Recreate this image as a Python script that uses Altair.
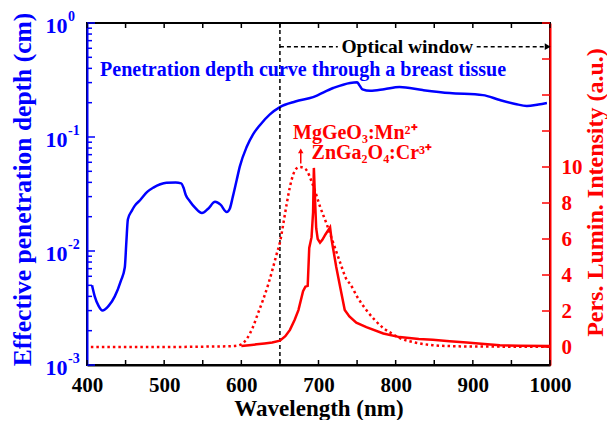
import altair as alt
import pandas as pd

# ---------------- data ----------------
blue_wl = [406.5, 410, 415, 420, 428, 436, 444, 449, 451, 453, 458, 462, 469, 478, 486, 495, 503,
           515, 522, 525, 528, 533, 540, 549, 557, 566, 573, 581, 585, 589, 594, 598, 607, 615,
           624, 637, 650, 670, 693, 719, 741, 750, 753, 757, 767, 785, 805, 835, 870, 913, 935,
           955, 970, 985, 996]
blue_depth = [0.0050, 0.0040, 0.0033, 0.0030, 0.0033, 0.0040, 0.0055, 0.0072, 0.012, 0.019,
              0.0225, 0.025, 0.028, 0.033, 0.036, 0.0385, 0.0396, 0.0398, 0.0392, 0.036, 0.031,
              0.0275, 0.024, 0.0215, 0.0235, 0.027, 0.0255, 0.022, 0.0235, 0.030, 0.042, 0.055,
              0.082, 0.105, 0.127, 0.158, 0.183, 0.205, 0.224, 0.269, 0.298, 0.302, 0.285, 0.262,
              0.254, 0.262, 0.274, 0.258, 0.243, 0.233, 0.211, 0.195, 0.187, 0.193, 0.199]

znga_wl = [600, 610, 620, 630, 640, 650, 657, 663, 669, 674, 680, 683, 686, 688, 691, 693, 694,
           695.5, 697, 699, 702, 705, 709, 712, 715, 717, 720, 723, 728, 734, 740, 749, 762,
           784, 805, 830, 848, 870, 892, 915, 935, 960, 1000]
znga_int = [0.05, 0.10, 0.15, 0.20, 0.25, 0.35, 0.60, 0.95, 1.50, 2.05, 3.10, 3.35, 3.40, 5.50,
            6.10, 7.50, 9.95, 8.20, 6.60, 6.00, 5.80, 5.95, 6.25, 6.45, 6.65, 5.95, 5.20, 4.45,
            3.35, 2.05, 1.70, 1.35, 1.10, 0.75, 0.55, 0.45, 0.40, 0.32, 0.25, 0.17, 0.10, 0.07, 0.05]

mggeo_wl = [405, 450, 500, 550, 590, 600, 607, 615, 621, 628, 635, 641, 646, 650, 655, 659, 663,
            667, 671, 676, 681, 685, 691, 696, 702, 710, 719, 728, 737, 741, 750, 762, 773, 784,
            795, 805, 825, 848, 870, 892, 950, 1000]
mggeo_int = [0.0, 0.0, 0.0, 0.02, 0.05, 0.15, 0.45, 1.10, 1.80, 2.60, 3.50, 4.40, 5.20, 5.80,
             7.00, 8.00, 8.90, 9.55, 9.90, 10.0, 9.95, 9.80, 9.20, 8.60, 7.80, 6.90, 5.80, 4.70,
             3.70, 3.50, 2.80, 2.05, 1.50, 1.05, 0.75, 0.50, 0.25, 0.10, 0.05, 0.03, 0.02, 0.02]

x_tick_pos = list(range(400, 1001, 50))
x_label_vals = [400, 500, 600, 700, 800, 900, 1000]
left_major = [0.001, 0.01, 0.1, 1.0]
left_exponents = ["-3", "-2", "-1", "0"]
left_minor = [m * 10.0 ** e for e in (-3, -2, -1) for m in range(2, 10)]
right_tick_pos = [0, 2, 4, 6, 8, 10, 12, 14, 16, 18]
right_label_vals = [0, 2, 4, 6, 8, 10]

window_start = 650
window_y = 0.62
window_segments_a = [650, 725]
window_segments_b = [905, 994]
arrow_tip = 997

blue_note = "Penetration depth curve through a breast tissue"
blue_note_pos = (417, 0.387)
red_notes = ["MgGeO\u2083:Mn\u00b2\u207a", "ZnGa\u2082O\u2084:Cr\u00b3\u207a"]
red_note_x = [667, 691]
red_note_y = [11.9, 10.8]
red_arrow = (677, 10.2, 11.1)

# ---------------- style ----------------
W, H = 463, 342
FONT = "Liberation Serif"
BLUE = "#0000ff"
RED = "#ff0000"

def xs():
    return alt.Scale(domain=[400, 1000], nice=False)

def ys_log():
    return alt.Scale(type="log", domain=[0.001, 1], nice=False)

def ys_lin():
    return alt.Scale(domain=[-1, 18], nice=False)

def x_axis():
    return alt.Axis(values=x_label_vals, format="d", title="Wavelength (nm)", ticks=False, grid=False,
                    labelPadding=9, labelFontSize=21, labelFont=FONT, labelFontWeight="bold",
                    labelColor="black", labelFlush=False, labelOverlap=False,
                    titleFont=FONT, titleFontSize=23, titleFontWeight="bold", titleColor="black",
                    titleX=W / 2, titleY=50, titleBaseline="alphabetic", titleAlign="center",
                    domainColor="black", domainWidth=2)

def X(field):
    return alt.X(field, scale=xs(), axis=x_axis())

left_axis = alt.Axis(values=left_major, labelExpr="'10'", ticks=False,
                     grid=False, labelPadding=20, labelFontSize=22, labelFont=FONT,
                     labelFontWeight="bold", labelColor=BLUE, labelBaseline="middle", labelOffset=2,
                     title="Effective penetration depth (cm)", titleFont=FONT, titleFontSize=25.5,
                     titleFontWeight="bold", titleColor=BLUE, titleAngle=270, titleX=-65,
                     titleY=166, titleAlign="center", titleBaseline="middle",
                     domainColor=BLUE, domainWidth=2)

right_axis = alt.Axis(orient="right", values=right_label_vals, ticks=False, grid=False,
                      labelPadding=11, labelFontSize=21, labelFont=FONT, labelFontWeight="bold",
                      labelColor=RED, labelBaseline="middle",
                      title="Pers. Lumin. Intensity (a.u.)", titleFont=FONT, titleFontSize=24,
                      titleFontWeight="bold", titleColor=RED, titleAngle=270, titleX=45,
                      titleY=169, titleAlign="center", titleBaseline="middle",
                      domainColor=RED, domainWidth=2)

# ---------------- log-scale (left) marks ----------------
blue_df = pd.DataFrame({"wl": blue_wl, "v": blue_depth})
blue_line = alt.Chart(blue_df).mark_line(color=BLUE, strokeWidth=2.5, interpolate="monotone").encode(
    x=X("wl:Q"),
    y=alt.Y("v:Q", scale=ys_log(), axis=left_axis),
)

exp_text = alt.Chart(pd.DataFrame({"v": left_major, "t": left_exponents})).mark_text(
    font=FONT, fontSize=14, fontWeight="bold", color=BLUE, align="left", baseline="middle",
    dy=-6).encode(y=alt.Y("v:Q", scale=ys_log(), axis=None), x=alt.value(-19), text="t:N")

lmaj = alt.Chart(pd.DataFrame({"v": left_major})).mark_rule(color=BLUE, strokeWidth=1.5).encode(
    y=alt.Y("v:Q", scale=ys_log(), axis=None), x=alt.value(0), x2=alt.value(8))
lmin = alt.Chart(pd.DataFrame({"v": left_minor})).mark_rule(color=BLUE, strokeWidth=1.5).encode(
    y=alt.Y("v:Q", scale=ys_log(), axis=None), x=alt.value(0), x2=alt.value(5))

xt_df = pd.DataFrame({"wl": x_tick_pos})
xticks_bottom = alt.Chart(xt_df).mark_rule(color="black", strokeWidth=1.5).encode(
    x=X("wl:Q"), y=alt.value(H), y2=alt.value(H - 5))
xticks_top = alt.Chart(xt_df).mark_rule(color="black", strokeWidth=1.5).encode(
    x=X("wl:Q"), y=alt.value(0), y2=alt.value(5))

vline = alt.Chart(pd.DataFrame({"wl": [window_start]})).mark_rule(
    color="black", strokeWidth=1.5, strokeDash=[4, 3]).encode(
    x=X("wl:Q"), y=alt.value(0), y2=alt.value(H))

seg_df = pd.DataFrame({"a": [window_segments_a[0], window_segments_b[0]],
                       "b": [window_segments_a[1], window_segments_b[1]],
                       "v": [window_y, window_y]})
segs = alt.Chart(seg_df).mark_rule(color="black", strokeWidth=1.5, strokeDash=[4, 3]).encode(
    x=X("a:Q"), x2="b:Q",
    y=alt.Y("v:Q", scale=ys_log(), axis=None))
arrow_head = alt.Chart(pd.DataFrame({"wl": [arrow_tip], "v": [window_y]})).mark_point(
    shape="triangle-right", filled=True, color="black", size=45, opacity=1).encode(
    x=X("wl:Q"), y=alt.Y("v:Q", scale=ys_log(), axis=None))
window_text = alt.Chart(pd.DataFrame({"wl": [(window_segments_a[1] + window_segments_b[0]) / 2],
                                      "v": [window_y], "t": ["Optical window"]})).mark_text(
    font=FONT, fontSize=19.5, fontWeight="bold", color="black", baseline="middle", align="center").encode(
    x=X("wl:Q"), y=alt.Y("v:Q", scale=ys_log(), axis=None), text="t:N")

blue_text = alt.Chart(pd.DataFrame({"wl": [blue_note_pos[0]], "v": [blue_note_pos[1]],
                                    "t": [blue_note]})).mark_text(
    font=FONT, fontSize=20, fontWeight="bold", color=BLUE, baseline="middle", align="left").encode(
    x=X("wl:Q"), y=alt.Y("v:Q", scale=ys_log(), axis=None), text="t:N")

# ---------------- linear-scale (right) marks ----------------
zn_df = pd.DataFrame({"wl": znga_wl, "v": znga_int})
mg_df = pd.DataFrame({"wl": mggeo_wl, "v": mggeo_int})

mg_line = alt.Chart(mg_df).mark_line(color=RED, strokeWidth=2.5, strokeDash=[2.5, 3],
                                     interpolate="monotone").encode(
    x=X("wl:Q"),
    y=alt.Y("v:Q", scale=ys_lin(), axis=right_axis),
)
zn_line = alt.Chart(zn_df).mark_line(color=RED, strokeWidth=2.5).encode(
    x=X("wl:Q"),
    y=alt.Y("v:Q", scale=ys_lin(), axis=None),
)
rticks = alt.Chart(pd.DataFrame({"v": right_tick_pos})).mark_rule(color=RED, strokeWidth=1.5).encode(
    y=alt.Y("v:Q", scale=ys_lin(), axis=None), x=alt.value(W), x2=alt.value(W - 8))

red_text = alt.Chart(pd.DataFrame({"wl": red_note_x, "v": red_note_y, "t": red_notes})).mark_text(
    font=FONT, fontSize=20, fontWeight="bold", color=RED, baseline="middle", align="left").encode(
    x=X("wl:Q"), y=alt.Y("v:Q", scale=ys_lin(), axis=None), text="t:N")

arr_df = pd.DataFrame({"wl": [red_arrow[0]], "a": [red_arrow[1]], "b": [red_arrow[2] - 0.3]})
red_arrow_shaft = alt.Chart(arr_df).mark_rule(color=RED, strokeWidth=1.5).encode(
    x=X("wl:Q"), y=alt.Y("a:Q", scale=ys_lin(), axis=None), y2="b:Q")
red_arrow_head = alt.Chart(pd.DataFrame({"wl": [red_arrow[0]], "v": [red_arrow[2] - 0.2]})).mark_point(
    shape="triangle-up", filled=True, color=RED, size=30, opacity=1).encode(
    x=X("wl:Q"), y=alt.Y("v:Q", scale=ys_lin(), axis=None))

chart = alt.layer(
    blue_line, exp_text, lmaj, lmin, xticks_bottom, xticks_top, vline, segs, arrow_head,
    window_text, blue_text, mg_line, zn_line, rticks, red_text, red_arrow_shaft, red_arrow_head,
).resolve_scale(y="independent").properties(
    width=W, height=H,
    autosize=alt.AutoSizeParams(type="none"),
    padding={"left": 79, "top": 15, "right": 57, "bottom": 55},
).configure_view(stroke="black", strokeWidth=2)

chart.save("out.html", embed_options={"renderer": "svg", "actions": False})
